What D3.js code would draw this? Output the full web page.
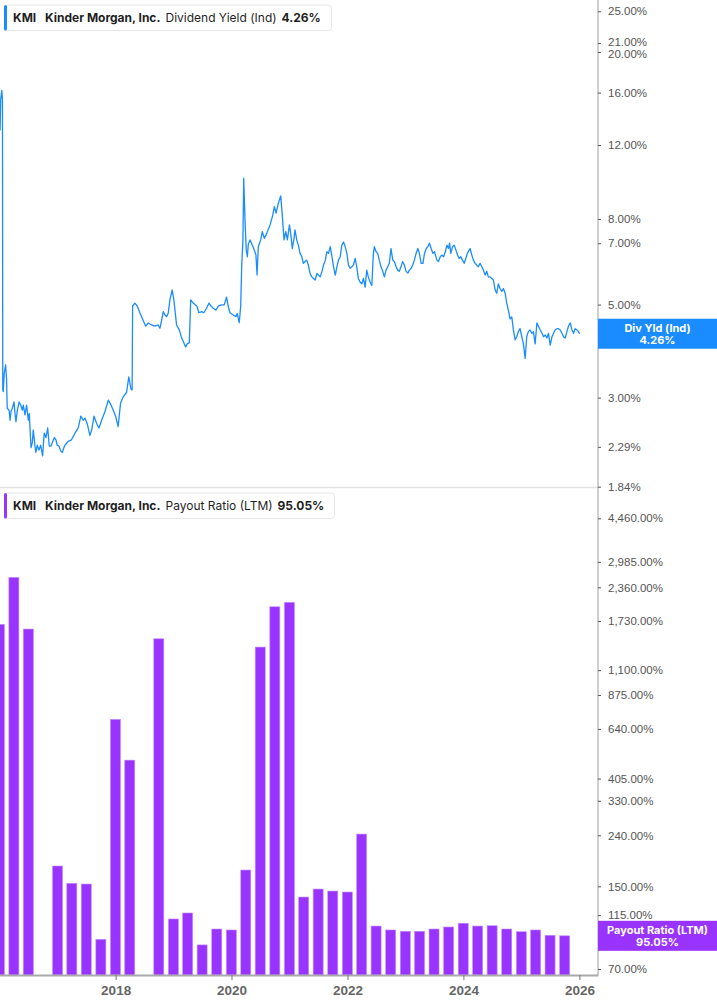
<!DOCTYPE html>
<html>
<head>
<meta charset="utf-8">
<script src="https://cdn.jsdelivr.net/npm/d3@7"></script>
<style>
	body { margin: 0; background: #fff; }
	svg { display: block; font-family: Inter, "Noto Sans", sans-serif; }
</style>
</head>
<body>
<div id="chart"></div>
<script>
// dividend yield (indicated), %
var yieldDates = [
	'2016-01-04','2016-01-08','2016-01-13','2016-01-15','2016-01-19','2016-01-21','2016-01-24','2016-01-30',
	'2016-02-08','2016-02-14','2016-02-18','2016-03-01','2016-03-07','2016-03-13','2016-03-21','2016-04-01',
	'2016-04-07','2016-04-13','2016-04-22','2016-05-03','2016-05-13','2016-05-23','2016-05-29','2016-06-09',
	'2016-06-19','2016-06-30','2016-07-06','2016-07-17','2016-07-25','2016-07-31','2016-08-11','2016-08-17',
	'2016-08-25','2016-09-05','2016-09-16','2016-09-28','2016-10-08','2016-10-19','2016-10-30','2016-11-09',
	'2016-11-20','2016-12-01','2016-12-11','2016-12-21','2016-12-29','2017-01-09','2017-01-20','2017-01-30',
	'2017-02-09','2017-02-16','2017-03-08','2017-03-29','2017-04-20','2017-05-10','2017-05-27','2017-06-11',
	'2017-06-22','2017-07-06','2017-07-23','2017-08-03','2017-08-18','2017-09-04','2017-09-18','2017-10-05',
	'2017-10-26','2017-11-16','2017-12-03','2017-12-17','2018-01-01','2018-01-17','2018-02-01','2018-02-17',
	'2018-03-11','2018-03-25','2018-04-07','2018-04-15','2018-04-18','2018-05-02','2018-05-17','2018-06-03',
	'2018-06-23','2018-07-10','2018-07-25','2018-08-15','2018-09-05','2018-09-26','2018-10-07','2018-10-18',
	'2018-10-28','2018-11-08','2018-11-18','2018-11-28','2018-12-09','2018-12-23','2019-01-03','2019-01-20',
	'2019-02-06','2019-02-21','2019-03-07','2019-03-18','2019-03-28','2019-04-10','2019-04-19','2019-05-05',
	'2019-05-27','2019-06-10','2019-06-27','2019-07-11','2019-07-28','2019-08-12','2019-08-25','2019-09-08',
	'2019-09-25','2019-10-10','2019-10-31','2019-11-16','2019-12-01','2019-12-11','2019-12-22','2020-01-12',
	'2020-01-29','2020-02-06','2020-02-19','2020-02-28','2020-03-05','2020-03-13','2020-03-18','2020-03-26',
	'2020-04-03','2020-04-10','2020-04-16','2020-04-27','2020-05-11','2020-05-24','2020-06-03','2020-06-10',
	'2020-06-18','2020-07-03','2020-07-13','2020-07-26','2020-08-10','2020-08-31','2020-09-17','2020-09-27',
	'2020-10-08','2020-10-22','2020-11-06','2020-11-16','2020-11-27','2020-12-08','2020-12-18','2020-12-31',
	'2021-01-08','2021-01-18','2021-01-29','2021-02-04','2021-02-15','2021-02-25','2021-03-08','2021-03-19',
	'2021-03-29','2021-04-09','2021-04-19','2021-04-29','2021-05-10','2021-05-21','2021-05-31','2021-06-11',
	'2021-06-22','2021-07-02','2021-07-13','2021-07-24','2021-08-03','2021-08-14','2021-08-24','2021-09-03',
	'2021-09-14','2021-09-25','2021-10-05','2021-10-16','2021-10-26','2021-11-05','2021-11-16','2021-11-26',
	'2021-12-07','2021-12-17','2021-12-28','2022-01-07','2022-01-17','2022-01-28','2022-02-07','2022-02-18',
	'2022-02-28','2022-03-10','2022-03-21','2022-04-01','2022-04-11','2022-04-22','2022-05-02','2022-05-12',
	'2022-05-23','2022-06-03','2022-06-13','2022-06-19','2022-06-30','2022-07-10','2022-07-20','2022-07-31',
	'2022-08-11','2022-08-21','2022-09-01','2022-09-11','2022-09-21','2022-10-02','2022-10-13','2022-10-23',
	'2022-11-03','2022-11-13','2022-11-23','2022-12-04','2022-12-14','2022-12-25','2023-01-05','2023-01-16',
	'2023-01-26','2023-02-06','2023-02-16','2023-02-26','2023-03-09','2023-03-20','2023-03-30','2023-04-10',
	'2023-04-21','2023-05-01','2023-05-12','2023-05-22','2023-06-01','2023-06-12','2023-06-23','2023-07-03',
	'2023-07-18','2023-07-28','2023-08-08','2023-08-19','2023-08-29','2023-09-09','2023-09-19','2023-09-29',
	'2023-10-06','2023-10-14','2023-10-24','2023-11-04','2023-11-15','2023-11-25','2023-12-05','2023-12-16',
	'2023-12-26','2024-01-06','2024-01-16','2024-01-26','2024-02-06','2024-02-12','2024-02-23','2024-03-04',
	'2024-03-14','2024-03-25','2024-04-04','2024-04-15','2024-04-26','2024-05-06','2024-05-17','2024-05-27',
	'2024-06-06','2024-06-17','2024-06-28','2024-07-08','2024-07-19','2024-07-29','2024-08-08','2024-08-19',
	'2024-08-30','2024-09-09','2024-09-20','2024-09-30','2024-10-10','2024-10-21','2024-11-01','2024-11-11',
	'2024-11-22','2024-12-02','2024-12-12','2024-12-23','2025-01-03','2025-01-13','2025-01-24','2025-02-03',
	'2025-02-13','2025-02-24','2025-03-07','2025-03-17','2025-03-28','2025-04-08','2025-04-18','2025-04-29',
	'2025-05-10','2025-05-20','2025-05-31','2025-06-10','2025-06-20','2025-07-01','2025-07-12','2025-07-22',
	'2025-08-01','2025-08-12','2025-08-22','2025-09-02','2025-09-13','2025-09-23','2025-10-03','2025-10-14',
	'2025-10-24','2025-11-04','2025-11-15','2025-11-25','2025-12-05','2025-12-16','2025-12-26','2026-01-02'
];
var yieldValues = [
	13.0,15.4,16.0,16.2,15.4,3.13,3.10,3.42,
	3.59,3.31,2.83,2.80,2.65,2.78,2.83,2.93,
	2.75,2.63,2.80,2.93,2.88,2.80,2.88,2.73,
	2.88,2.65,2.75,2.28,2.34,2.51,2.30,2.22,
	2.31,2.25,2.31,2.18,2.47,2.41,2.54,2.30,
	2.30,2.36,2.41,2.38,2.31,2.30,2.24,2.22,
	2.28,2.31,2.36,2.38,2.47,2.54,2.71,2.65,
	2.68,2.60,2.44,2.51,2.71,2.60,2.54,2.65,
	2.78,2.96,2.88,2.80,2.71,2.56,2.91,3.01,
	3.09,3.36,3.15,3.13,4.96,5.04,4.96,4.78,
	4.59,4.44,4.52,4.47,4.44,4.47,4.39,4.59,
	4.81,4.72,4.68,4.76,5.13,5.42,5.13,4.47,
	4.35,4.16,4.05,3.96,4.03,4.05,5.13,5.04,
	4.96,4.78,4.81,4.78,4.90,5.04,4.96,4.90,
	4.85,4.96,4.99,4.99,5.21,4.96,4.78,4.72,
	4.68,4.76,4.53,4.96,6.14,7.13,10.0,7.95,
	6.74,6.50,6.97,7.13,6.93,6.74,6.56,5.88,
	6.87,7.13,7.46,7.19,7.39,7.74,8.17,8.56,
	8.26,8.71,9.08,8.17,7.13,7.46,7.13,7.74,
	7.39,6.80,7.19,7.53,7.13,6.93,6.62,6.50,
	6.27,6.33,6.38,6.21,5.93,5.82,5.77,5.72,
	5.93,5.88,5.82,6.00,6.21,6.38,6.68,6.62,
	6.87,6.50,6.15,5.88,6.15,6.38,6.50,6.93,
	7.05,6.87,6.62,6.21,6.10,6.15,6.21,6.44,
	6.15,5.77,5.66,5.60,5.77,5.50,6.04,5.82,
	5.66,5.55,6.62,6.87,6.68,6.62,6.38,6.15,
	6.00,5.82,6.04,6.15,6.27,6.80,6.38,6.33,
	6.15,6.04,6.00,6.15,6.33,6.21,6.00,5.94,
	6.04,6.10,6.21,6.38,6.62,6.80,6.62,6.27,
	6.27,6.62,6.80,6.87,7.00,6.80,6.62,6.68,
	6.38,6.33,6.50,6.56,6.50,6.68,6.93,6.80,
	7.00,6.62,6.87,6.93,6.74,6.56,6.44,6.50,
	6.38,6.27,6.44,6.62,6.74,6.80,6.56,6.38,
	6.27,6.21,6.15,6.27,6.15,6.04,5.88,6.00,
	5.82,5.82,5.77,5.72,5.42,5.32,5.60,5.46,
	5.37,5.46,5.32,5.04,4.85,4.62,4.67,4.35,
	4.12,4.19,4.31,4.38,4.19,4.03,3.72,4.19,
	4.31,4.35,4.27,4.31,4.03,4.52,4.44,4.35,
	4.27,4.19,4.23,4.16,4.27,4.00,4.19,4.27,
	4.35,4.38,4.38,4.35,4.27,4.19,4.16,4.31,
	4.44,4.52,4.35,4.27,4.38,4.35,4.31,4.26
];

// payout ratio (LTM), %, by quarter end; null = not shown (negative)
var payoutQuarters = [
	'2015-12-31','2016-03-31','2016-06-30','2016-09-30','2016-12-31','2017-03-31','2017-06-30','2017-09-30',
	'2017-12-31','2018-03-31','2018-06-30','2018-09-30','2018-12-31','2019-03-31','2019-06-30','2019-09-30',
	'2019-12-31','2020-03-31','2020-06-30','2020-09-30','2020-12-31','2021-03-31','2021-06-30','2021-09-30',
	'2021-12-31','2022-03-31','2022-06-30','2022-09-30','2022-12-31','2023-03-31','2023-06-30','2023-09-30',
	'2023-12-31','2024-03-31','2024-06-30','2024-09-30','2024-12-31','2025-03-31','2025-06-30','2025-09-30'
];
var payoutValues = [
	1678, 2587, 1607, null, 180.9, 154.2, 153.2, 92.0,
	699, 480, null, 1469, 111, 117.3, 87.4, 101.2,
	100.3, 174.3, 1361, 1973, 2055, 135.9, 146.3, 143.6,
	142.3, 242.8, 104.0, 100.3, 99.1, 99.1, 101.2, 103.1,
	106.7, 104.0, 104.3, 101.2, 98.7, 100.3, 95.5, 95.05
];

var xTickYears = [2018, 2020, 2022, 2024, 2026];
var yieldTicks = [25, 21, 20, 16, 12, 8, 7, 5, 3, 2.29, 1.84];
var payoutTicks = [4460, 2985, 2360, 1730, 1100, 875, 640, 405, 330, 240, 150, 115, 70];

var yieldLast = 4.26, payoutLast = 95.05;

var width = 717,
	height = 1005,
	axisX = 598,
	baseY = 975;

var blue = '#1a8cff',
	purple = '#9933ff';

var parse = d3.timeParse('%Y-%m-%d');

var yieldData = yieldDates.map(function(d, i) {
	return {date: parse(d), value: yieldValues[i]};
});
var payoutData = payoutQuarters.map(function(d, i) {
	return {date: parse(d), value: payoutValues[i]};
}).filter(function(d) {return d.value !== null});

var x = d3.scaleTime()
	.domain([parse('2016-01-01'), parse('2026-04-28')])
	.range([-0.4, axisX]);

var yTop = d3.scaleLog()
	.domain([1.84, 25])
	.range([486.7, 11.3]);

var yBot = d3.scaleLog()
	.domain([70, 4460])
	.range([969, 518.3]);

var pct = function(d) {return d3.format(',.2f')(d) + '%'};

var svg = d3.select('#chart')
	.append('svg')
	.attr('width', width)
	.attr('height', height);

// panel separator
svg.append('line')
	.attr('x1', 0).attr('x2', axisX)
	.attr('y1', 487.5).attr('y2', 487.5)
	.attr('stroke', '#e2e2e2')
	.attr('stroke-width', 1.5);

// bars
svg.selectAll('rect.bar')
	.data(payoutData)
	.enter()
	.append('rect')
	.attr('class', 'bar')
	.attr('x', function(d) {return x(d.date) - 5})
	.attr('width', 10)
	.attr('y', function(d) {return yBot(d.value)})
	.attr('height', function(d) {return baseY - yBot(d.value)})
	.attr('fill', purple)
	.attr('stroke', '#c28cff')
	.attr('stroke-width', 0.6);

// yield line
var line = d3.line()
	.x(function(d) {return x(d.date)})
	.y(function(d) {return yTop(d.value)});

svg.append('path')
	.datum(yieldData)
	.attr('d', line)
	.attr('fill', 'none')
	.attr('stroke', blue)
	.attr('stroke-width', 1.3)
	.attr('stroke-linejoin', 'round');

// x axis
var xAxis = d3.axisBottom(x)
	.tickValues(xTickYears.map(function(y) {return new Date(y, 0, 1)}))
	.tickSizeInner(5)
	.tickSizeOuter(0)
	.tickPadding(5)
	.tickFormat(d3.timeFormat('%Y'));

var gx = svg.append('g')
	.attr('transform', 'translate(0,' + baseY + ')')
	.call(xAxis);
gx.select('.domain').attr('stroke', '#aaa').attr('stroke-width', 2);
gx.selectAll('.tick line').attr('stroke', '#777');
gx.selectAll('.tick text')
	.attr('fill', '#666')
	.style('font-size', '13.5px')
	.style('font-weight', 'bold');

// right axis line
svg.append('line')
	.attr('x1', axisX).attr('x2', axisX)
	.attr('y1', 0).attr('y2', baseY)
	.attr('stroke', '#a0a0a0')
	.attr('stroke-width', 1);

var styleAxis = function(g) {
	g.select('.domain').remove();
	g.selectAll('.tick line').attr('stroke', '#555');
	g.selectAll('.tick text')
		.attr('fill', '#555')
		.style('font-size', '11.5px');
};

var gTop = svg.append('g')
	.attr('transform', 'translate(' + axisX + ',0)')
	.call(d3.axisRight(yTop).tickValues(yieldTicks).tickSize(3).tickPadding(7).tickFormat(pct))
	.call(styleAxis);

// 21% and 20% sit close together: spread their labels a little
gTop.selectAll('.tick text')
	.attr('y', function(d) {return d === 21 ? -1.5 : d === 20 ? 1.5 : 0});

svg.append('g')
	.attr('transform', 'translate(' + axisX + ',0)')
	.call(d3.axisRight(yBot).tickValues(payoutTicks).tickSize(3).tickPadding(7).tickFormat(pct))
	.call(styleAxis);

// last value labels on the axis
var lastLabel = function(yPos, color, name, value) {
	var g = svg.append('g').attr('transform', 'translate(' + axisX + ',' + yPos + ')');
	g.append('rect')
		.attr('x', 0).attr('y', -15)
		.attr('width', width - axisX).attr('height', 30)
		.attr('fill', color);
	g.append('text')
		.attr('x', (width - axisX) / 2).attr('y', -2)
		.attr('text-anchor', 'middle')
		.attr('fill', '#fff')
		.style('font-size', '11px')
		.style('font-weight', 'bold')
		.text(name);
	g.append('text')
		.attr('x', (width - axisX) / 2).attr('y', 10)
		.attr('text-anchor', 'middle')
		.attr('fill', '#fff')
		.style('font-size', '11px')
		.style('font-weight', 'bold')
		.text(value);
};

lastLabel(yTop(yieldLast), blue, 'Div Yld (Ind)', yieldLast.toFixed(2) + '%');
lastLabel(yBot(payoutLast), purple, 'Payout Ratio (LTM)', payoutLast.toFixed(2) + '%');

// legends
var legend = function(top, w, color, parts) {
	var g = svg.append('g').attr('transform', 'translate(4,' + top + ')');
	g.append('rect')
		.attr('x', 0.5).attr('y', 0.5)
		.attr('width', w).attr('height', 25.5)
		.attr('rx', 3)
		.attr('fill', '#fff')
		.attr('stroke', '#e6e6e6');
	g.append('rect')
		.attr('x', 0).attr('y', 0.5)
		.attr('width', 3).attr('height', 25.5)
		.attr('rx', 1.5)
		.attr('fill', color);
	parts.forEach(function(p) {
		g.append('text')
			.attr('x', p.x - 4).attr('y', 17.5)
			.attr('fill', '#1f1f1f')
			.style('font-size', '12px')
			.style('font-weight', p.bold ? 'bold' : 'normal')
			.text(p.text);
	});
};

legend(4.5, 327, blue, [
	{x: 13, text: 'KMI', bold: true},
	{x: 45, text: 'Kinder Morgan, Inc.', bold: true},
	{x: 165.5, text: 'Dividend Yield (Ind)', bold: false},
	{x: 281.5, text: yieldLast.toFixed(2) + '%', bold: true}
]);

legend(492.5, 330, purple, [
	{x: 13, text: 'KMI', bold: true},
	{x: 45, text: 'Kinder Morgan, Inc.', bold: true},
	{x: 165.5, text: 'Payout Ratio (LTM)', bold: false},
	{x: 277.5, text: payoutLast.toFixed(2) + '%', bold: true}
]);
</script>
</body>
</html>
